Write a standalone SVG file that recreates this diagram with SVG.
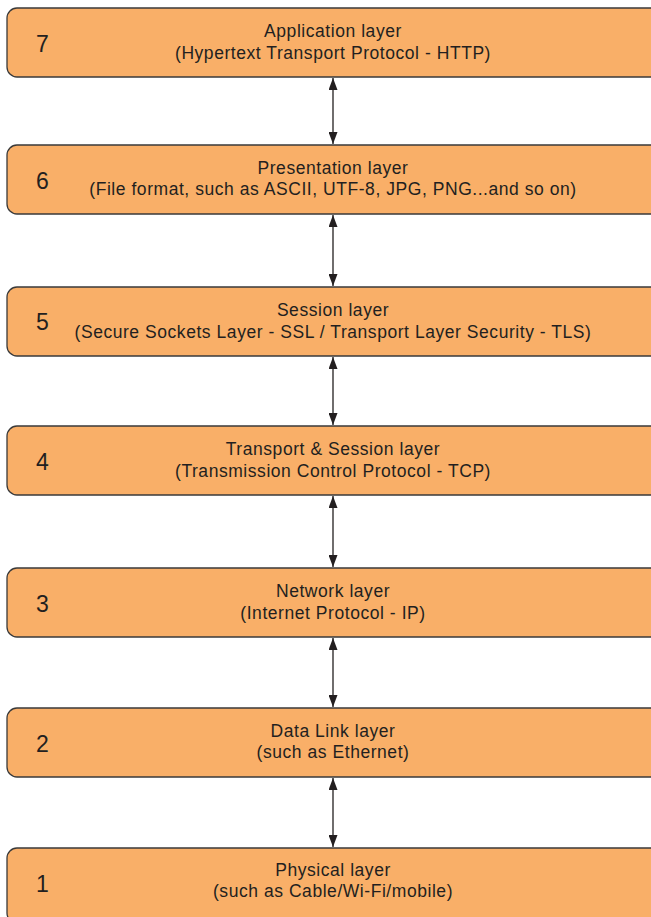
<svg xmlns="http://www.w3.org/2000/svg" width="651" height="917" viewBox="0 0 651 917">
<style>
.box{fill:#F9AF68;stroke:#3a3a3a;stroke-width:1.3}
.num{font-family:"Liberation Sans",Arial,sans-serif;font-size:23px;fill:#231f20}
.t{font-family:"Liberation Sans",Arial,sans-serif;font-size:17.5px;letter-spacing:0.55px;fill:#231f20;text-anchor:middle}
.c{stroke:#231f20;stroke-width:1.3;fill:none;marker-start:url(#a);marker-end:url(#a)}
</style>
<defs>
<marker id="a" viewBox="0 0 12 9" refX="12" refY="4.5" markerWidth="12" markerHeight="9" orient="auto-start-reverse" markerUnits="userSpaceOnUse">
<path d="M0,0 L12,4.5 L0,9 z" fill="#231f20"/>
</marker>
</defs>
<g id="connectors">
<line class="c" x1="333" y1="78" x2="333" y2="144"/>
<line class="c" x1="333" y1="215" x2="333" y2="286"/>
<line class="c" x1="333" y1="357" x2="333" y2="425"/>
<line class="c" x1="333" y1="496" x2="333" y2="567"/>
<line class="c" x1="333" y1="638" x2="333" y2="707"/>
<line class="c" x1="333" y1="778" x2="333" y2="847"/>
</g>
<g id="layer7">
<rect class="box" x="7" y="8" width="660" height="69" rx="10"/>
<text class="num" x="36" y="52">7</text>
<text class="t" x="333" y="37">Application layer</text>
<text class="t" x="333" y="59">(Hypertext Transport Protocol - HTTP)</text>
</g>
<g id="layer6">
<rect class="box" x="7" y="145" width="660" height="69" rx="10"/>
<text class="num" x="36" y="189">6</text>
<text class="t" x="333" y="174">Presentation layer</text>
<text class="t" x="333" y="195">(File format, such as ASCII, UTF-8, JPG, PNG...and so on)</text>
</g>
<g id="layer5">
<rect class="box" x="7" y="287" width="660" height="69" rx="10"/>
<text class="num" x="36" y="330">5</text>
<text class="t" x="333" y="316">Session layer</text>
<text class="t" x="333" y="338">(Secure Sockets Layer - SSL / Transport Layer Security - TLS)</text>
</g>
<g id="layer4">
<rect class="box" x="7" y="426" width="660" height="69" rx="10"/>
<text class="num" x="36" y="470">4</text>
<text class="t" x="333" y="455">Transport &amp; Session layer</text>
<text class="t" x="333" y="477">(Transmission Control Protocol - TCP)</text>
</g>
<g id="layer3">
<rect class="box" x="7" y="568" width="660" height="69" rx="10"/>
<text class="num" x="36" y="612">3</text>
<text class="t" x="333" y="597">Network layer</text>
<text class="t" x="333" y="619">(Internet Protocol - IP)</text>
</g>
<g id="layer2">
<rect class="box" x="7" y="708" width="660" height="69" rx="10"/>
<text class="num" x="36" y="752">2</text>
<text class="t" x="333" y="737">Data Link layer</text>
<text class="t" x="333" y="758">(such as Ethernet)</text>
</g>
<g id="layer1">
<rect class="box" x="7" y="848" width="660" height="75" rx="10"/>
<text class="num" x="36" y="892">1</text>
<text class="t" x="333" y="876">Physical layer</text>
<text class="t" x="333" y="897">(such as Cable/Wi-Fi/mobile)</text>
</g>
</svg>
